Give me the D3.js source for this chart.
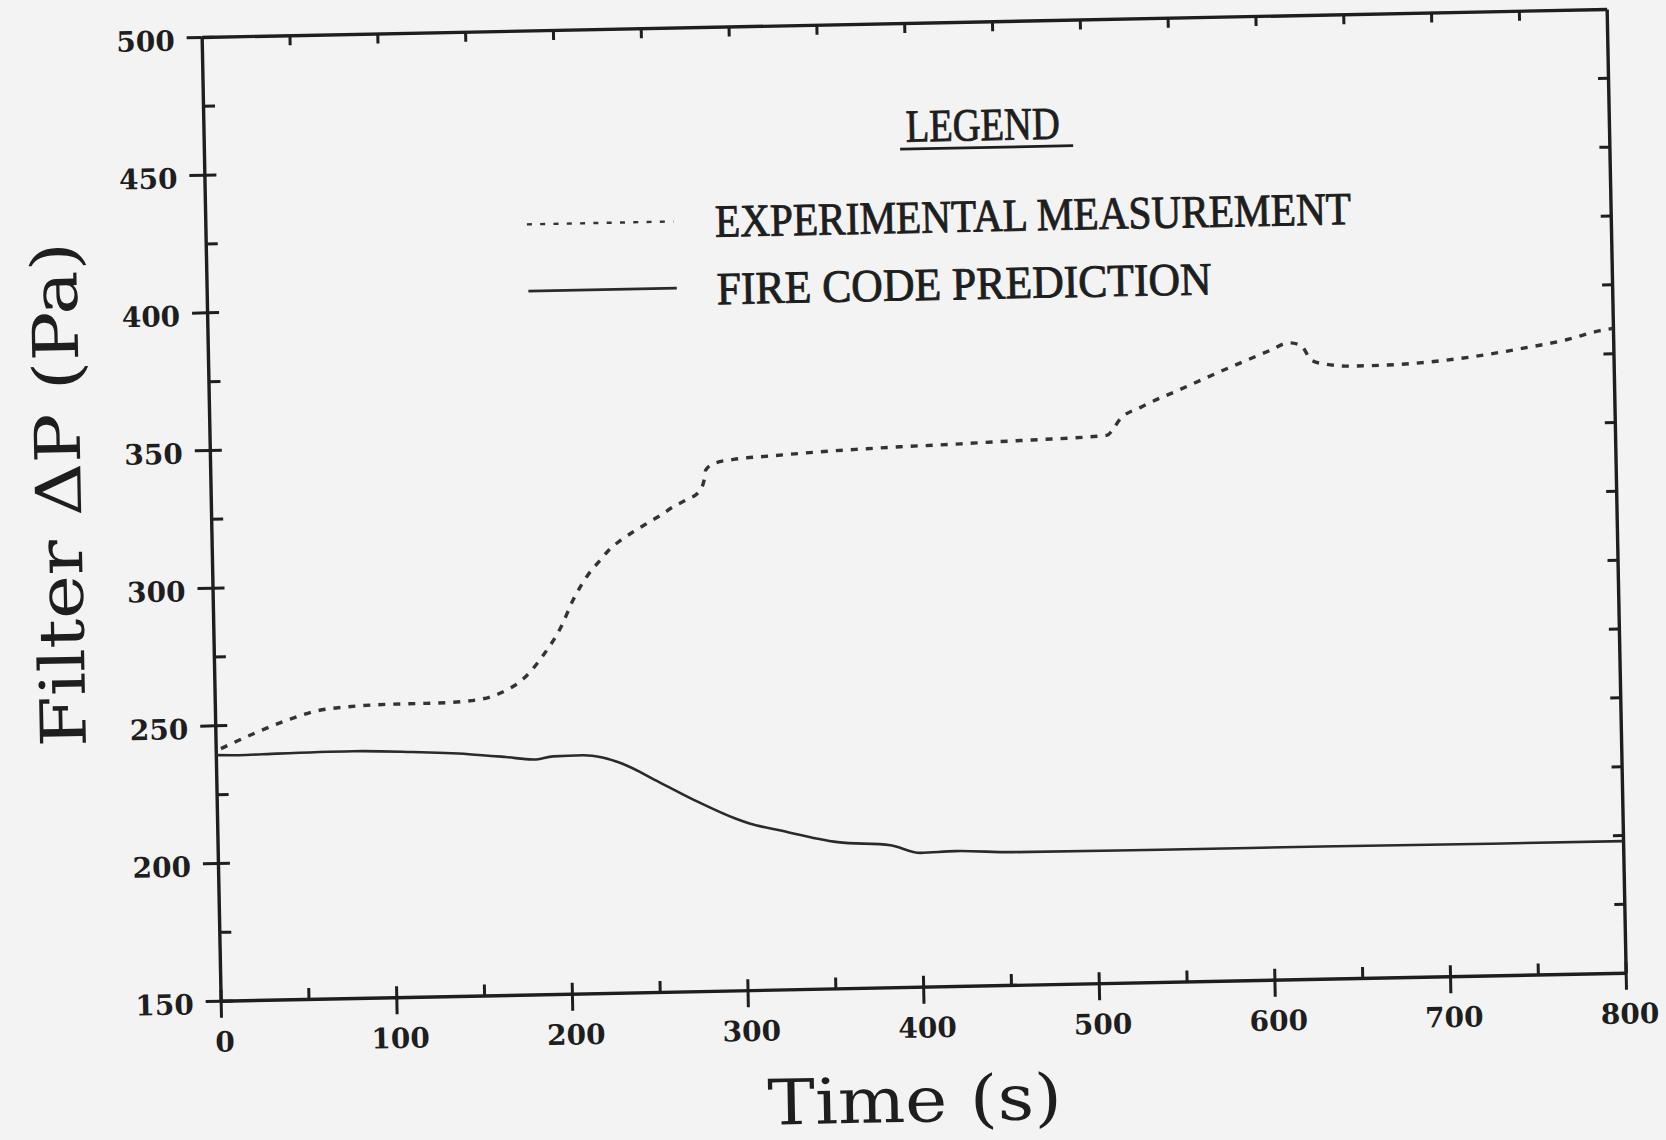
<!DOCTYPE html>
<html>
<head>
<meta charset="utf-8">
<script src="https://cdn.jsdelivr.net/npm/d3@7"></script>
<style>
  body { margin: 0; background: #f3f3f3; }
  svg { display: block; }
  .tick text { font-family: "DejaVu Serif", serif; font-size: 28px; font-weight: bold; fill: #1e1e1e; }
  .legend text { font-family: "Liberation Serif", serif; font-size: 46px; fill: #1e1e1e; stroke: #1e1e1e; stroke-width: 0.9px; }
  .title { font-family: "DejaVu Serif", serif; font-size: 63px; fill: #1e1e1e; }
</style>
</head>
<body>
<div id="chart"></div>
<script>
// data
var expTime = [3, 24, 42, 57, 74, 100, 127, 144, 162, 177, 188, 198, 205, 213, 221, 227, 233, 240, 248, 256, 263, 271, 278, 281, 282, 287, 298, 317, 336, 355, 374, 393, 412, 431, 448, 474, 500, 511, 514, 518, 531, 552, 578, 605, 615, 622, 628, 636, 651, 669, 696, 722, 748, 774, 792, 800];
var expDP = [241.5, 247.3, 251.6, 254.4, 255.7, 256.4, 256.5, 257, 259.5, 265.3, 273.5, 283.3, 292.8, 301.2, 307.2, 311.4, 314.3, 317.2, 320.2, 323.1, 326, 328.6, 331.3, 335.5, 339.1, 341.5, 342.8, 343.7, 344.5, 345.2, 345.7, 346.2, 346.5, 346.9, 347.3, 347.8, 348.4, 348.9, 350.7, 354.3, 359, 364.7, 371.7, 378.6, 381.1, 380.2, 374.7, 373.1, 372.2, 372.3, 373.2, 374.9, 377.4, 380.3, 383.2, 384];

var fireTime = [0, 13, 35, 78, 111, 144, 165, 181, 192, 209, 220, 231, 252, 274, 295, 303, 320, 353, 383, 400, 420, 453, 536, 636, 725, 800];
var fireDP = [239.2, 239, 239.3, 239.6, 238.9, 237.7, 236.4, 235.3, 236.3, 236.5, 235.5, 233.2, 226.2, 218.7, 212.4, 210.5, 207.8, 203.1, 201.6, 198.6, 199, 198.2, 198, 198, 197.8, 197.8];

var xMajor = [0, 100, 200, 300, 400, 500, 600, 700, 800];
var xMinor = d3.range(0, 801, 50);
var yMajor = [150, 200, 250, 300, 350, 400, 450, 500];
var yMinor = d3.range(150, 501, 25);

var legendLabels = ["EXPERIMENTAL MEASUREMENT", "FIRE CODE PREDICTION"];

// plot size in the (slightly skewed) scan frame
var W = 1405, H = 963.7;

var svg = d3.select("#chart").append("svg")
  .attr("width", 1666)
  .attr("height", 1140);

svg.append("rect").attr("width", 1666).attr("height", 1140).attr("fill", "#f3f3f3");

// the scan is a little tilted, so the whole chart sits in a skewed group
var g = svg.append("g")
  .attr("transform", "matrix(1,-0.01993,0.01972,1,201.65,37)");

var x = d3.scaleLinear().domain([0, 800]).range([0, W]);
var y = d3.scaleLinear().domain([150, 500]).range([H, 0]);

var ink = "#1e1e1e";

// bottom axis with labels
var bottom = g.append("g")
  .attr("transform", `translate(0, ${H})`)
  .call(d3.axisBottom(x).tickValues(xMajor).tickSize(17).tickSizeOuter(0).tickPadding(14).tickFormat(d3.format("d")));
bottom.selectAll("text").attr("dx", 3);

// inward ticks on bottom
g.append("g")
  .attr("transform", `translate(0, ${H})`)
  .call(d3.axisTop(x).tickValues(xMinor).tickSize(11).tickFormat(""))
  .call(s => s.select(".domain").remove());

// left axis with labels
var left = g.append("g")
  .call(d3.axisLeft(y).tickValues(yMajor).tickSize(15).tickSizeOuter(0).tickPadding(12).tickFormat(d3.format("d")));
left.selectAll("text").attr("dy", "0.45em");

// inward ticks on left
g.append("g")
  .call(d3.axisRight(y).tickValues(yMinor).tickSize(12).tickFormat(""))
  .call(s => s.select(".domain").remove());

// top frame, ticks every 50 s
g.append("g")
  .call(d3.axisBottom(x).tickValues(xMinor.slice(1, -1)).tickSize(10).tickSizeOuter(0).tickFormat(""));

// right frame, ticks every 25 Pa
g.append("g")
  .attr("transform", `translate(${W}, 0)`)
  .call(d3.axisLeft(y).tickValues(yMinor.slice(1, -1)).tickSize(10).tickSizeOuter(0).tickFormat(""));

g.selectAll(".domain").attr("stroke", ink).attr("stroke-width", 3.4);
g.selectAll(".tick line").attr("stroke", ink).attr("stroke-width", 3);

// curves
var line = d3.line()
  .x(d => x(d[0]))
  .y(d => y(d[1]))
  .curve(d3.curveMonotoneX);

g.append("path")
  .datum(expTime.map((t, i) => [t, expDP[i]]))
  .attr("d", line)
  .attr("fill", "none")
  .attr("stroke", "#333")
  .attr("stroke-width", 3.4)
  .attr("stroke-dasharray", "7,8");

g.append("path")
  .datum(fireTime.map((t, i) => [t, fireDP[i]]))
  .attr("d", line)
  .attr("fill", "none")
  .attr("stroke", "#2a2a2a")
  .attr("stroke-width", 2.6);

// legend
var legend = g.append("g").attr("class", "legend");

legend.append("text")
  .attr("x", 702)
  .attr("y", 118.7)
  .attr("textLength", 154)
  .attr("lengthAdjust", "spacingAndGlyphs")
  .text("LEGEND");

legend.append("line")
  .attr("x1", 696).attr("x2", 869)
  .attr("y1", 126).attr("y2", 126)
  .attr("stroke", ink).attr("stroke-width", 2.8);

legend.append("line")
  .attr("x1", 321.4).attr("x2", 468)
  .attr("y1", 193.8).attr("y2", 193.8)
  .attr("stroke", "#333").attr("stroke-width", 2.4)
  .attr("stroke-dasharray", "5,8.3");

legend.append("text")
  .attr("x", 509.4)
  .attr("y", 209.9)
  .attr("textLength", 636)
  .attr("lengthAdjust", "spacingAndGlyphs")
  .text(legendLabels[0]);

legend.append("line")
  .attr("x1", 321.6).attr("x2", 470)
  .attr("y1", 260.5).attr("y2", 260.5)
  .attr("stroke", "#2a2a2a").attr("stroke-width", 2.8);

legend.append("text")
  .attr("x", 509.8)
  .attr("y", 277.3)
  .attr("textLength", 495)
  .attr("lengthAdjust", "spacingAndGlyphs")
  .text(legendLabels[1]);

// axis titles
g.append("text")
  .attr("class", "title")
  .attr("x", 691.8)
  .attr("y", 1098.5)
  .attr("text-anchor", "middle")
  .attr("textLength", 294)
  .attr("lengthAdjust", "spacingAndGlyphs")
  .text("Time (s)");

g.append("text")
  .attr("class", "title")
  .attr("transform", "translate(-129.7, 454.6) rotate(-90)")
  .attr("text-anchor", "middle")
  .attr("textLength", 505)
  .attr("lengthAdjust", "spacingAndGlyphs")
  .text("Filter \u0394P (Pa)");
</script>
</body>
</html>
